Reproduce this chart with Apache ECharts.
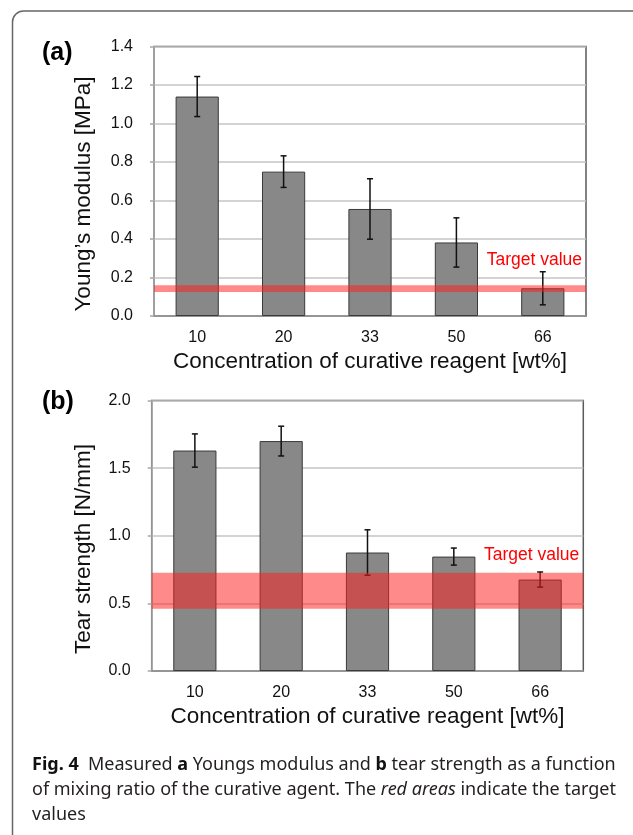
<!DOCTYPE html>
<html>
<head>
<meta charset="utf-8">
<script src="https://cdn.jsdelivr.net/npm/echarts@6/dist/echarts.min.js"></script>
<style>
html,body{margin:0;padding:0;background:#fff;}
#chart{width:633px;height:835px;}
</style>
</head>
<body>
<div id="chart"></div>
<script>
// ---- data ----
const categories = ['10', '20', '33', '50', '66'];
const youngValues = [1.14, 0.75, 0.556, 0.382, 0.144];
const youngErrors = [0.104, 0.082, 0.157, 0.128, 0.086];
const tearValues = [1.63, 1.70, 0.876, 0.846, 0.676];
const tearErrors = [0.123, 0.11, 0.168, 0.063, 0.056];
const youngTarget = [0.125, 0.16];
const tearTarget = [0.46, 0.727];
const youngTicks = [0, 1.4, 0.2];   // min, max, interval
const tearTicks = [0, 2.0, 0.5];
const youngLabelAt = 0.29;
const tearLabelAt = 0.856;
const panelLabels = ['(a)', '(b)'];
const yTitles = ['Young\u2019s modulus [MPa]', 'Tear strength [N/mm]'];
const xTitle = 'Concentration of curative reagent [wt%]';
const targetText = 'Target value';
const captionLines = [
  '{b|Fig. 4}  Measured {b|a} Youngs modulus and {b|b} tear strength as a function',
  'of mixing ratio of the curative agent. The {i|red areas} indicate the target',
  'values'
];

const FONT = '"Liberation Sans", Arial, sans-serif';
const CFONT = '"Noto Sans", sans-serif';
const chart = echarts.init(document.getElementById('chart'));

function errSeries(idx, vals, errs) {
  return {
    type: 'custom', xAxisIndex: idx, yAxisIndex: idx, z: 4,
    data: vals.map((v, i) => [i, v, errs[i]]),
    renderItem: function (params, api) {
      const i = api.value(0), v = api.value(1), e = api.value(2);
      const top = api.coord([i, v + e]);
      const bot = api.coord([i, v - e]);
      const x = top[0], w = 3;
      const st = { stroke: '#111', lineWidth: 1.5 };
      return { type: 'group', children: [
        { type: 'line', shape: { x1: x, y1: top[1], x2: x, y2: bot[1] }, style: st },
        { type: 'line', shape: { x1: x - w, y1: top[1], x2: x + w, y2: top[1] }, style: st },
        { type: 'line', shape: { x1: x - w, y1: bot[1], x2: x + w, y2: bot[1] }, style: st }
      ]};
    }
  };
}

function bandSeries(idx, band, labelAt) {
  return {
    type: 'custom', xAxisIndex: idx, yAxisIndex: idx, z: 6,
    data: [[0, band[0], band[1], labelAt]],
    renderItem: function (params, api) {
      const cs = params.coordSys;
      const y1 = api.coord([0, api.value(2)])[1];
      const y0 = api.coord([0, api.value(1)])[1];
      const yl = api.coord([0, api.value(3)])[1];
      return { type: 'group', children: [
        { type: 'rect', shape: { x: cs.x, y: y1, width: cs.width, height: y0 - y1 },
          style: { fill: 'rgba(255,30,30,0.52)' } },
        { type: 'text', x: cs.x + cs.width - 4, y: yl,
          style: { text: targetText, fill: '#ff0000', font: '17.5px ' + FONT, align: 'right', verticalAlign: 'middle' } }
      ]};
    }
  };
}

function xAxisDef(idx) {
  return {
    type: 'category', gridIndex: idx, data: categories,
    axisLine: { lineStyle: { color: '#8a8a8a', width: 1.5 } },
    axisTick: { show: false },
    axisLabel: { color: '#111', fontSize: 16, fontFamily: FONT, margin: 14 },
    name: xTitle, nameLocation: 'middle', nameGap: 34,
    nameTextStyle: { color: '#111', fontSize: 22.5, fontFamily: FONT }
  };
}
function yAxisDef(idx, ticks) {
  return {
    type: 'value', gridIndex: idx, min: ticks[0], max: ticks[1], interval: ticks[2],
    axisLine: { show: true, lineStyle: { color: '#a8a8a8', width: 1.5 } },
    axisTick: { show: true, length: 4, lineStyle: { color: '#a8a8a8', width: 1.5 } },
    splitLine: { lineStyle: { color: '#c4c4c4', width: 1.5 } },
    axisLabel: { color: '#111', fontSize: 16, fontFamily: FONT, margin: 21,
      formatter: v => v.toFixed(1) }
  };
}

const option = {
  animation: false,
  backgroundColor: '#fff',
  grid: [
    { left: 154, top: 46.5, width: 432, height: 269.5, show: true, borderColor: '#5a5a5a', borderWidth: 1.5 },
    { left: 151.7, top: 400.5, width: 431.6, height: 270.5, show: true, borderColor: '#5a5a5a', borderWidth: 1.5 }
  ],
  xAxis: [xAxisDef(0), xAxisDef(1)],
  yAxis: [yAxisDef(0, youngTicks), yAxisDef(1, tearTicks)],
  series: [
    { type: 'bar', xAxisIndex: 0, yAxisIndex: 0, data: youngValues, barWidth: '50%', z: 2,
      itemStyle: { color: '#888888', borderColor: '#3a3a3a', borderWidth: 1 } },
    { type: 'bar', xAxisIndex: 1, yAxisIndex: 1, data: tearValues, barWidth: '50%', z: 2,
      itemStyle: { color: '#888888', borderColor: '#3a3a3a', borderWidth: 1 } },
    errSeries(0, youngValues, youngErrors),
    errSeries(1, tearValues, tearErrors),
    bandSeries(0, youngTarget, youngLabelAt),
    bandSeries(1, tearTarget, tearLabelAt)
  ],
  graphic: [
    { type: 'rect', shape: { x: 12.5, y: 11, width: 640, height: 840, r: [11, 0, 0, 0] },
      style: { fill: 'none', stroke: '#666', lineWidth: 1.5 }, z: 0 },
    { type: 'text', x: 42, y: 53, style: { text: panelLabels[0], font: 'bold 25px ' + FONT, fill: '#000', verticalAlign: 'middle' } },
    { type: 'text', x: 42, y: 402.5, style: { text: panelLabels[1], font: 'bold 25px ' + FONT, fill: '#000', verticalAlign: 'middle' } },
    { type: 'text', x: 84, y: 194, rotation: Math.PI / 2,
      style: { text: yTitles[0], font: '22.5px ' + FONT, fill: '#111', align: 'center', verticalAlign: 'middle' } },
    { type: 'text', x: 83.5, y: 549, rotation: Math.PI / 2,
      style: { text: yTitles[1], font: '22.5px ' + FONT, fill: '#111', align: 'center', verticalAlign: 'middle' } },
    { type: 'text', x: 32, y: 765, style: {
        text: captionLines[0], font: '18px ' + CFONT, fill: '#231f20', verticalAlign: 'middle',
        rich: { b: { fontWeight: 'bold', fontSize: 18, fontFamily: CFONT, fill: '#111' } } } },
    { type: 'text', x: 32, y: 790, style: {
        text: captionLines[1], font: '18px ' + CFONT, fill: '#231f20', verticalAlign: 'middle',
        rich: { i: { fontStyle: 'italic', fontSize: 18, fontFamily: CFONT, fill: '#231f20' } } } },
    { type: 'text', x: 32, y: 815, style: {
        text: captionLines[2], font: '18px ' + CFONT, fill: '#231f20', verticalAlign: 'middle' } }
  ]
};
chart.setOption(option);
</script>
</body>
</html>
